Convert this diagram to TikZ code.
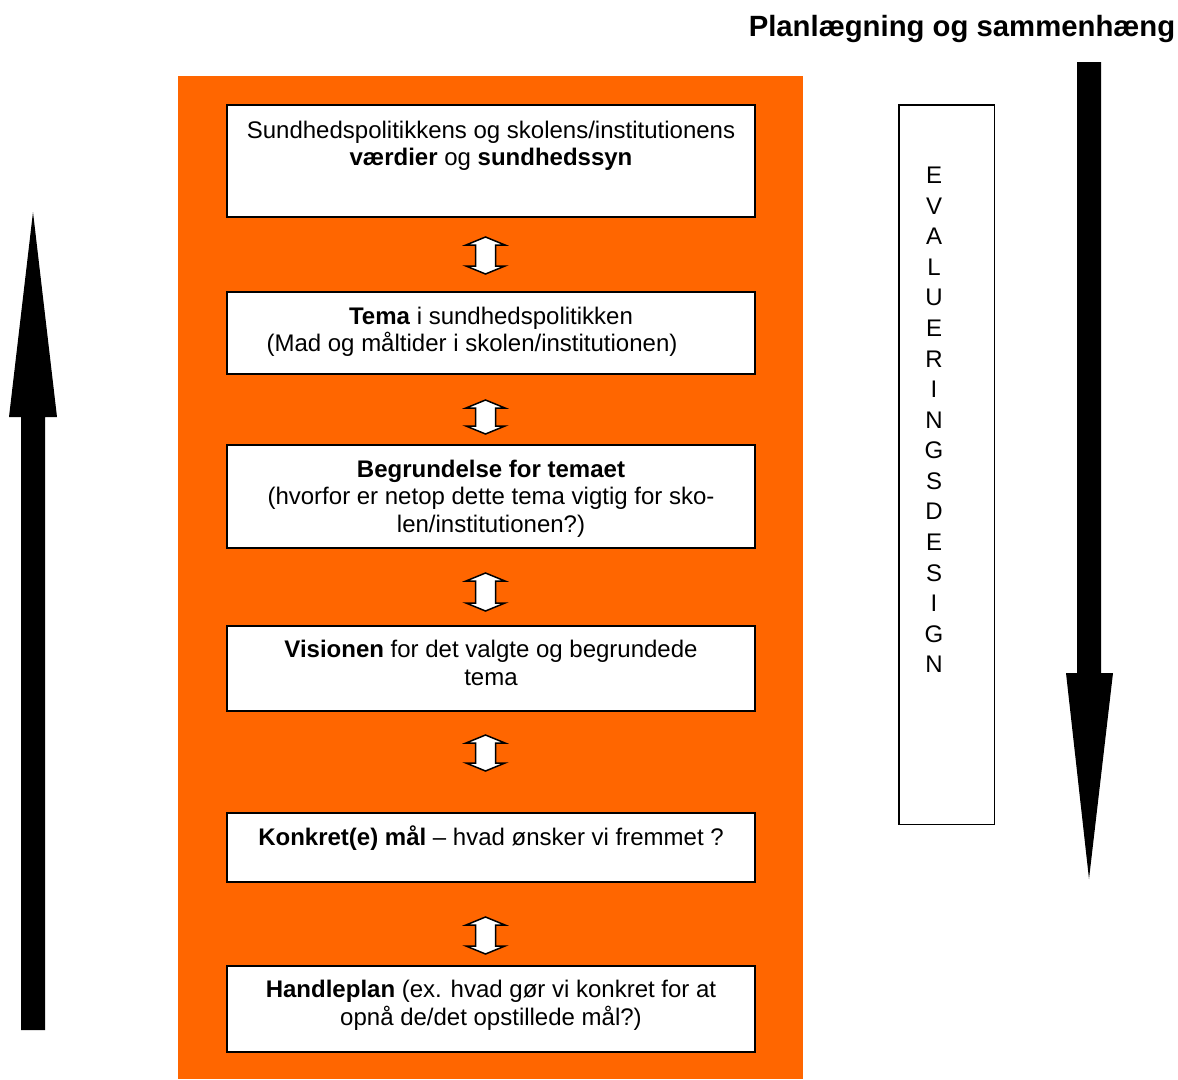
\documentclass[tikz,border=0pt]{standalone}
\usepackage{fontspec}
\setmainfont{Liberation Sans}
\usetikzlibrary{calc}
\definecolor{planorange}{HTML}{FF6600}
\begin{document}
\begin{tikzpicture}[x=1pt,y=-1pt,
  stepbox/.style={draw=black, line width=1.6pt, fill=white, minimum width=528.4pt,
    anchor=north, inner sep=0pt},
  steptext/.style={anchor=north, inner sep=0pt, align=center,
    font=\fontsize{24}{27.6}\selectfont},
  linkarrow/.style={draw=black, fill=white, line width=1.5pt, line join=miter},
  bigarrow/.style={fill=black},
  evalbox/.style={draw=black, line width=1.5pt, minimum width=95.5pt,
    minimum height=719.5pt, anchor=north west, inner sep=0pt}
]
\useasboundingbox (0,0) rectangle (1178,1079);

% orange background panel
\fill[planorange] (178,76) rectangle (803,1079);

% title
\node[anchor=base, inner sep=0pt, font=\fontsize{29.3}{34}\selectfont\bfseries]
  (title) at (962,36) {Planlægning og sammenhæng};

% the six steps
\node[stepbox, minimum height=112.4pt] (b1) at (491,104) {};
\node[stepbox, minimum height=82.4pt]  (b2) at (491,291) {};
\node[stepbox, minimum height=103.4pt] (b3) at (491,444) {};
\node[stepbox, minimum height=85.4pt]  (b4) at (491,625) {};
\node[stepbox, minimum height=69.4pt]  (b5) at (491,812) {};
\node[stepbox, minimum height=86.4pt]  (b6) at (491,965) {};

\node[steptext] (t1) at ([yshift=-15pt]b1.north)
  {\rule{0pt}{19pt}Sundhedspolitikkens og skolens/institutionens\\
   \textbf{værdier} og \textbf{sundhedssyn}};
\node[steptext] (t2) at ([yshift=-14pt]b2.north)
  {\rule{0pt}{19pt}\textbf{Tema} i sundhedspolitikken\\
   (Mad og måltider i skolen/institutionen)\hbox to 38pt{}};
\node[steptext] (t3) at ([yshift=-14pt]b3.north)
  {\rule{0pt}{19pt}\textbf{Begrundelse for temaet}\\
   (hvorfor er netop dette tema vigtig for sko-\\
   len/institutionen?)};
\node[steptext] (t4) at ([yshift=-13.5pt]b4.north)
  {\rule{0pt}{19pt}\textbf{Visionen} for det valgte og begrundede\\ tema};
\node[steptext] (t5) at ([yshift=-13.5pt]b5.north)
  {\rule{0pt}{19pt}\textbf{Konkret(e) mål} -- hvad ønsker vi fremmet ?};
\node[steptext] (t6) at ([yshift=-13.5pt]b6.north)
  {\rule{0pt}{19pt}\textbf{Handleplan} (ex. hvad gør vi konkret for at\\
   opnå de/det opstillede mål?)};

% two-way arrows between the steps
\foreach \n/\y/\h in {1/255.5/18.5, 2/417/17, 3/592/19, 4/753/18, 5/935.5/18.5} {
  \coordinate (m\n) at (485.5,\y);
  \draw[linkarrow, shift={(m\n)}]
    (0,-\h) -- (19.5,8-\h) -- (10,8-\h) -- (10,\h-8) -- (19.5,\h-8) -- (0,\h)
    -- (-19.5,\h-8) -- (-10,\h-8) -- (-10,8-\h) -- (-19.5,8-\h) -- cycle;
}

% large upward arrow on the left
\fill[bigarrow] (21,1030) -- (21,417) -- (9,417) -- (33,212) -- (57,417)
  -- (45,417) -- (45,1030) -- cycle;

% large downward arrow on the right
\fill[bigarrow] (1077,62) -- (1077,673) -- (1066,673) -- (1089,879) -- (1113,673)
  -- (1101,673) -- (1101,62) -- cycle;

% evaluation design column
\node[evalbox] (eval) at (898,104) {};
\node[anchor=north, inner sep=0pt, align=center,
  font=\fontsize{24}{30.56}\selectfont] (evaltext) at (934,167)
  {E\\V\\A\\L\\U\\E\\R\\I\\N\\G\\S\\D\\E\\S\\I\\G\\N};
\end{tikzpicture}
\end{document}
